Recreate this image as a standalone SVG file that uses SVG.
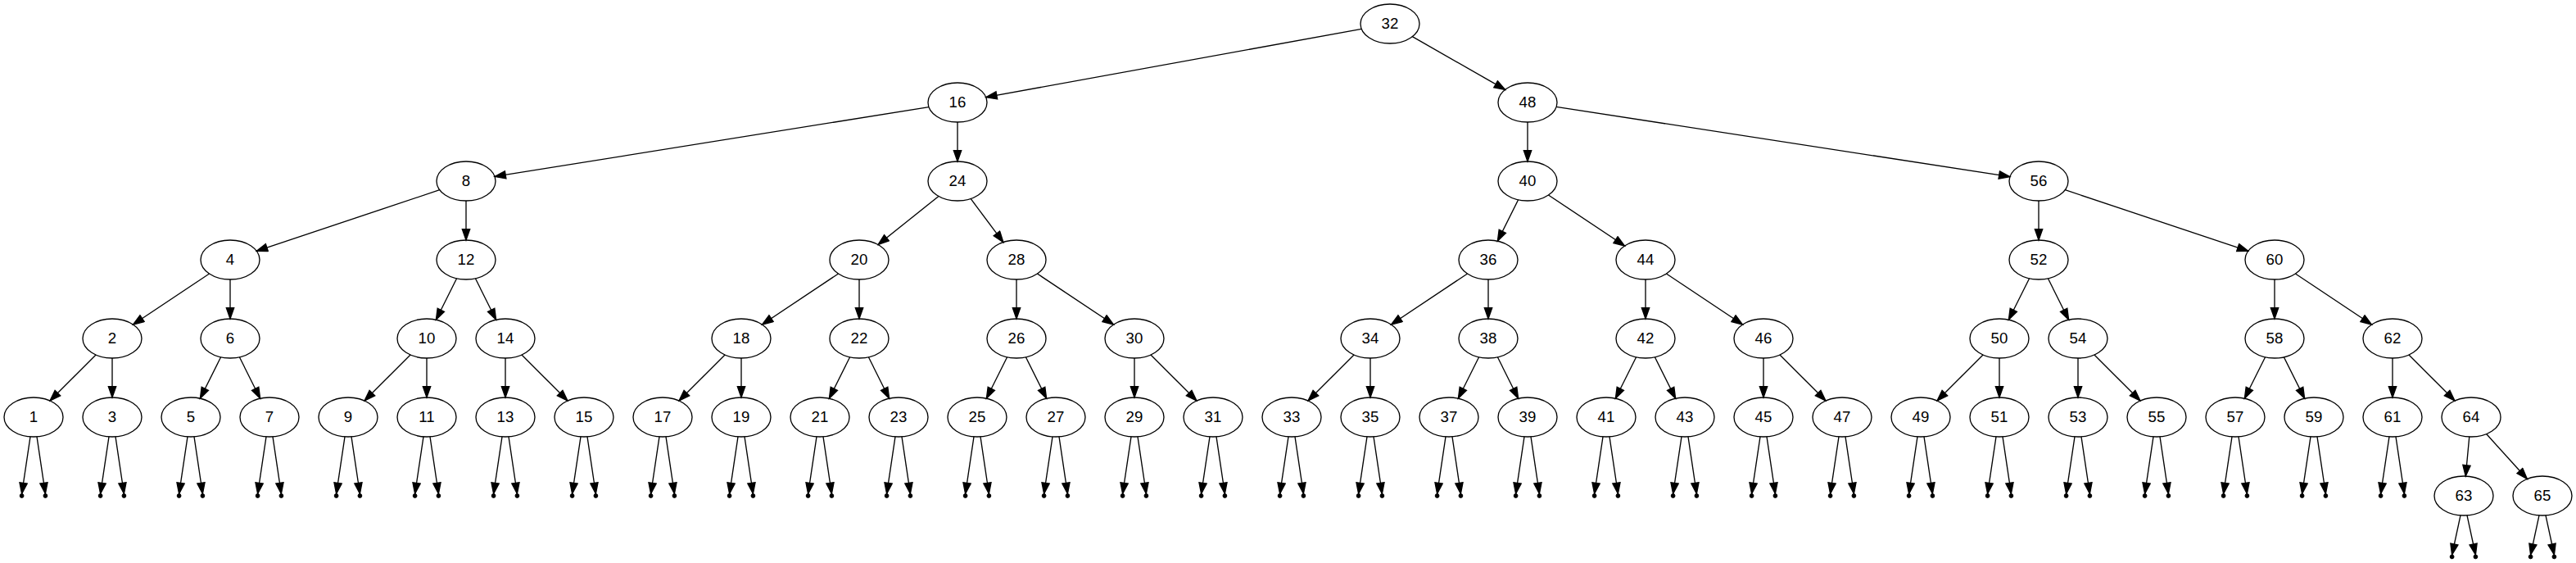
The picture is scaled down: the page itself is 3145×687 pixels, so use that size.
<svg xmlns="http://www.w3.org/2000/svg" width="3145" height="687" viewBox="0 0 3145 687">
<style>
.node ellipse{fill:none;stroke:#000;stroke-width:1.33}
.node text{font-family:"Liberation Sans",Arial,sans-serif;font-size:18.67px;text-anchor:middle;fill:#000}
.pt circle{fill:#000;stroke:#000;stroke-width:1}
#edges line{stroke:#000;stroke-width:1.33;fill:none;marker-end:url(#arr)}
</style>
<defs>
<marker id="arr" markerUnits="userSpaceOnUse" viewBox="-1 -1 16 12" markerWidth="16" markerHeight="12" refX="13.33" refY="4.67" orient="auto">
<path d="M0,0 L13.33,4.67 L0,9.33 Z" fill="#000" stroke="#000" stroke-width="1.33"/>
</marker>
</defs>
<rect x="0" y="0" width="3145" height="687" fill="#fff"/>
<g id="edges">
<line x1="1662.27" y1="35.32" x2="1203.73" y2="118.68"/>
<line x1="1724.33" y1="44.62" x2="1837.67" y2="109.38"/>
<line x1="1134.0" y1="130.6" x2="604.0" y2="215.4"/>
<line x1="1169" y1="149" x2="1169" y2="197"/>
<line x1="1865" y1="149" x2="1865" y2="197"/>
<line x1="1900.08" y1="130.4" x2="2453.92" y2="215.6"/>
<line x1="536.8" y1="231.73" x2="313.2" y2="306.27"/>
<line x1="569" y1="245" x2="569" y2="293"/>
<line x1="1145.95" y1="239.44" x2="1072.05" y2="298.56"/>
<line x1="1185.1" y1="242.47" x2="1224.9" y2="295.53"/>
<line x1="1853.62" y1="243.77" x2="1828.38" y2="294.23"/>
<line x1="1890.46" y1="237.97" x2="1983.54" y2="300.03"/>
<line x1="2489" y1="245" x2="2489" y2="293"/>
<line x1="2521.2" y1="231.73" x2="2744.8" y2="306.27"/>
<line x1="255.54" y1="333.97" x2="162.46" y2="396.03"/>
<line x1="281" y1="341" x2="281" y2="389"/>
<line x1="557.62" y1="339.77" x2="532.38" y2="390.23"/>
<line x1="580.38" y1="339.77" x2="605.62" y2="390.23"/>
<line x1="1023.54" y1="333.97" x2="930.46" y2="396.03"/>
<line x1="1049" y1="341" x2="1049" y2="389"/>
<line x1="1241" y1="341" x2="1241" y2="389"/>
<line x1="1266.46" y1="333.97" x2="1359.54" y2="396.03"/>
<line x1="1791.54" y1="333.97" x2="1698.46" y2="396.03"/>
<line x1="1817" y1="341" x2="1817" y2="389"/>
<line x1="2009" y1="341" x2="2009" y2="389"/>
<line x1="2034.46" y1="333.97" x2="2127.54" y2="396.03"/>
<line x1="2477.62" y1="339.77" x2="2452.38" y2="390.23"/>
<line x1="2500.38" y1="339.77" x2="2525.62" y2="390.23"/>
<line x1="2777" y1="341" x2="2777" y2="389"/>
<line x1="2802.46" y1="333.97" x2="2895.54" y2="396.03"/>
<line x1="117.03" y1="432.97" x2="60.97" y2="489.03"/>
<line x1="137" y1="437" x2="137" y2="485"/>
<line x1="269.62" y1="435.77" x2="244.38" y2="486.23"/>
<line x1="292.38" y1="435.77" x2="317.62" y2="486.23"/>
<line x1="501.03" y1="432.97" x2="444.97" y2="489.03"/>
<line x1="521" y1="437" x2="521" y2="485"/>
<line x1="617" y1="437" x2="617" y2="485"/>
<line x1="636.97" y1="432.97" x2="693.03" y2="489.03"/>
<line x1="885.03" y1="432.97" x2="828.97" y2="489.03"/>
<line x1="905" y1="437" x2="905" y2="485"/>
<line x1="1037.62" y1="435.77" x2="1012.38" y2="486.23"/>
<line x1="1060.38" y1="435.77" x2="1085.62" y2="486.23"/>
<line x1="1229.62" y1="435.77" x2="1204.38" y2="486.23"/>
<line x1="1252.38" y1="435.77" x2="1277.62" y2="486.23"/>
<line x1="1385" y1="437" x2="1385" y2="485"/>
<line x1="1404.97" y1="432.97" x2="1461.03" y2="489.03"/>
<line x1="1653.03" y1="432.97" x2="1596.97" y2="489.03"/>
<line x1="1673" y1="437" x2="1673" y2="485"/>
<line x1="1805.62" y1="435.77" x2="1780.38" y2="486.23"/>
<line x1="1828.38" y1="435.77" x2="1853.62" y2="486.23"/>
<line x1="1997.62" y1="435.77" x2="1972.38" y2="486.23"/>
<line x1="2020.38" y1="435.77" x2="2045.62" y2="486.23"/>
<line x1="2153" y1="437" x2="2153" y2="485"/>
<line x1="2172.97" y1="432.97" x2="2229.03" y2="489.03"/>
<line x1="2421.03" y1="432.97" x2="2364.97" y2="489.03"/>
<line x1="2441" y1="437" x2="2441" y2="485"/>
<line x1="2537" y1="437" x2="2537" y2="485"/>
<line x1="2556.97" y1="432.97" x2="2613.03" y2="489.03"/>
<line x1="2765.62" y1="435.77" x2="2740.38" y2="486.23"/>
<line x1="2788.38" y1="435.77" x2="2813.62" y2="486.23"/>
<line x1="2921" y1="437" x2="2921" y2="485"/>
<line x1="2940.97" y1="432.97" x2="2997.03" y2="489.03"/>
<line x1="3014.75" y1="532.95" x2="3010.25" y2="581.05"/>
<line x1="3035.62" y1="529.54" x2="3085.38" y2="584.46"/>
<line x1="37" y1="532.85" x2="26.6" y2="602.6"/><line x1="45" y1="532.85" x2="55.4" y2="602.6"/>
<line x1="133" y1="532.85" x2="122.6" y2="602.6"/><line x1="141" y1="532.85" x2="151.4" y2="602.6"/>
<line x1="229" y1="532.85" x2="218.6" y2="602.6"/><line x1="237" y1="532.85" x2="247.4" y2="602.6"/>
<line x1="325" y1="532.85" x2="314.6" y2="602.6"/><line x1="333" y1="532.85" x2="343.4" y2="602.6"/>
<line x1="421" y1="532.85" x2="410.6" y2="602.6"/><line x1="429" y1="532.85" x2="439.4" y2="602.6"/>
<line x1="517" y1="532.85" x2="506.6" y2="602.6"/><line x1="525" y1="532.85" x2="535.4" y2="602.6"/>
<line x1="613" y1="532.85" x2="602.6" y2="602.6"/><line x1="621" y1="532.85" x2="631.4" y2="602.6"/>
<line x1="709" y1="532.85" x2="698.6" y2="602.6"/><line x1="717" y1="532.85" x2="727.4" y2="602.6"/>
<line x1="805" y1="532.85" x2="794.6" y2="602.6"/><line x1="813" y1="532.85" x2="823.4" y2="602.6"/>
<line x1="901" y1="532.85" x2="890.6" y2="602.6"/><line x1="909" y1="532.85" x2="919.4" y2="602.6"/>
<line x1="997" y1="532.85" x2="986.6" y2="602.6"/><line x1="1005" y1="532.85" x2="1015.4" y2="602.6"/>
<line x1="1093" y1="532.85" x2="1082.6" y2="602.6"/><line x1="1101" y1="532.85" x2="1111.4" y2="602.6"/>
<line x1="1189" y1="532.85" x2="1178.6" y2="602.6"/><line x1="1197" y1="532.85" x2="1207.4" y2="602.6"/>
<line x1="1285" y1="532.85" x2="1274.6" y2="602.6"/><line x1="1293" y1="532.85" x2="1303.4" y2="602.6"/>
<line x1="1381" y1="532.85" x2="1370.6" y2="602.6"/><line x1="1389" y1="532.85" x2="1399.4" y2="602.6"/>
<line x1="1477" y1="532.85" x2="1466.6" y2="602.6"/><line x1="1485" y1="532.85" x2="1495.4" y2="602.6"/>
<line x1="1573" y1="532.85" x2="1562.6" y2="602.6"/><line x1="1581" y1="532.85" x2="1591.4" y2="602.6"/>
<line x1="1669" y1="532.85" x2="1658.6" y2="602.6"/><line x1="1677" y1="532.85" x2="1687.4" y2="602.6"/>
<line x1="1765" y1="532.85" x2="1754.6" y2="602.6"/><line x1="1773" y1="532.85" x2="1783.4" y2="602.6"/>
<line x1="1861" y1="532.85" x2="1850.6" y2="602.6"/><line x1="1869" y1="532.85" x2="1879.4" y2="602.6"/>
<line x1="1957" y1="532.85" x2="1946.6" y2="602.6"/><line x1="1965" y1="532.85" x2="1975.4" y2="602.6"/>
<line x1="2053" y1="532.85" x2="2042.6" y2="602.6"/><line x1="2061" y1="532.85" x2="2071.4" y2="602.6"/>
<line x1="2149" y1="532.85" x2="2138.6" y2="602.6"/><line x1="2157" y1="532.85" x2="2167.4" y2="602.6"/>
<line x1="2245" y1="532.85" x2="2234.6" y2="602.6"/><line x1="2253" y1="532.85" x2="2263.4" y2="602.6"/>
<line x1="2341" y1="532.85" x2="2330.6" y2="602.6"/><line x1="2349" y1="532.85" x2="2359.4" y2="602.6"/>
<line x1="2437" y1="532.85" x2="2426.6" y2="602.6"/><line x1="2445" y1="532.85" x2="2455.4" y2="602.6"/>
<line x1="2533" y1="532.85" x2="2522.6" y2="602.6"/><line x1="2541" y1="532.85" x2="2551.4" y2="602.6"/>
<line x1="2629" y1="532.85" x2="2618.6" y2="602.6"/><line x1="2637" y1="532.85" x2="2647.4" y2="602.6"/>
<line x1="2725" y1="532.85" x2="2714.6" y2="602.6"/><line x1="2733" y1="532.85" x2="2743.4" y2="602.6"/>
<line x1="2821" y1="532.85" x2="2810.6" y2="602.6"/><line x1="2829" y1="532.85" x2="2839.4" y2="602.6"/>
<line x1="2917" y1="532.85" x2="2906.6" y2="602.6"/><line x1="2925" y1="532.85" x2="2935.4" y2="602.6"/>
<line x1="3004" y1="628.85" x2="2993.6" y2="677"/><line x1="3012" y1="628.85" x2="3022.4" y2="677"/>
<line x1="3100" y1="628.85" x2="3089.6" y2="677"/><line x1="3108" y1="628.85" x2="3118.4" y2="677"/>
</g>
<g id="n32" class="node"><ellipse cx="1697" cy="29" rx="36" ry="24"/><text x="1697" y="34.6">32</text></g>
<g id="n16" class="node"><ellipse cx="1169" cy="125" rx="36" ry="24"/><text x="1169" y="130.6">16</text></g>
<g id="n48" class="node"><ellipse cx="1865" cy="125" rx="36" ry="24"/><text x="1865" y="130.6">48</text></g>
<g id="n8" class="node"><ellipse cx="569" cy="221" rx="36" ry="24"/><text x="569" y="226.6">8</text></g>
<g id="n24" class="node"><ellipse cx="1169" cy="221" rx="36" ry="24"/><text x="1169" y="226.6">24</text></g>
<g id="n40" class="node"><ellipse cx="1865" cy="221" rx="36" ry="24"/><text x="1865" y="226.6">40</text></g>
<g id="n56" class="node"><ellipse cx="2489" cy="221" rx="36" ry="24"/><text x="2489" y="226.6">56</text></g>
<g id="n4" class="node"><ellipse cx="281" cy="317" rx="36" ry="24"/><text x="281" y="322.6">4</text></g>
<g id="n12" class="node"><ellipse cx="569" cy="317" rx="36" ry="24"/><text x="569" y="322.6">12</text></g>
<g id="n20" class="node"><ellipse cx="1049" cy="317" rx="36" ry="24"/><text x="1049" y="322.6">20</text></g>
<g id="n28" class="node"><ellipse cx="1241" cy="317" rx="36" ry="24"/><text x="1241" y="322.6">28</text></g>
<g id="n36" class="node"><ellipse cx="1817" cy="317" rx="36" ry="24"/><text x="1817" y="322.6">36</text></g>
<g id="n44" class="node"><ellipse cx="2009" cy="317" rx="36" ry="24"/><text x="2009" y="322.6">44</text></g>
<g id="n52" class="node"><ellipse cx="2489" cy="317" rx="36" ry="24"/><text x="2489" y="322.6">52</text></g>
<g id="n60" class="node"><ellipse cx="2777" cy="317" rx="36" ry="24"/><text x="2777" y="322.6">60</text></g>
<g id="n2" class="node"><ellipse cx="137" cy="413" rx="36" ry="24"/><text x="137" y="418.6">2</text></g>
<g id="n6" class="node"><ellipse cx="281" cy="413" rx="36" ry="24"/><text x="281" y="418.6">6</text></g>
<g id="n10" class="node"><ellipse cx="521" cy="413" rx="36" ry="24"/><text x="521" y="418.6">10</text></g>
<g id="n14" class="node"><ellipse cx="617" cy="413" rx="36" ry="24"/><text x="617" y="418.6">14</text></g>
<g id="n18" class="node"><ellipse cx="905" cy="413" rx="36" ry="24"/><text x="905" y="418.6">18</text></g>
<g id="n22" class="node"><ellipse cx="1049" cy="413" rx="36" ry="24"/><text x="1049" y="418.6">22</text></g>
<g id="n26" class="node"><ellipse cx="1241" cy="413" rx="36" ry="24"/><text x="1241" y="418.6">26</text></g>
<g id="n30" class="node"><ellipse cx="1385" cy="413" rx="36" ry="24"/><text x="1385" y="418.6">30</text></g>
<g id="n34" class="node"><ellipse cx="1673" cy="413" rx="36" ry="24"/><text x="1673" y="418.6">34</text></g>
<g id="n38" class="node"><ellipse cx="1817" cy="413" rx="36" ry="24"/><text x="1817" y="418.6">38</text></g>
<g id="n42" class="node"><ellipse cx="2009" cy="413" rx="36" ry="24"/><text x="2009" y="418.6">42</text></g>
<g id="n46" class="node"><ellipse cx="2153" cy="413" rx="36" ry="24"/><text x="2153" y="418.6">46</text></g>
<g id="n50" class="node"><ellipse cx="2441" cy="413" rx="36" ry="24"/><text x="2441" y="418.6">50</text></g>
<g id="n54" class="node"><ellipse cx="2537" cy="413" rx="36" ry="24"/><text x="2537" y="418.6">54</text></g>
<g id="n58" class="node"><ellipse cx="2777" cy="413" rx="36" ry="24"/><text x="2777" y="418.6">58</text></g>
<g id="n62" class="node"><ellipse cx="2921" cy="413" rx="36" ry="24"/><text x="2921" y="418.6">62</text></g>
<g id="n1" class="node"><ellipse cx="41" cy="509" rx="36" ry="24"/><text x="41" y="514.6">1</text></g>
<g id="n3" class="node"><ellipse cx="137" cy="509" rx="36" ry="24"/><text x="137" y="514.6">3</text></g>
<g id="n5" class="node"><ellipse cx="233" cy="509" rx="36" ry="24"/><text x="233" y="514.6">5</text></g>
<g id="n7" class="node"><ellipse cx="329" cy="509" rx="36" ry="24"/><text x="329" y="514.6">7</text></g>
<g id="n9" class="node"><ellipse cx="425" cy="509" rx="36" ry="24"/><text x="425" y="514.6">9</text></g>
<g id="n11" class="node"><ellipse cx="521" cy="509" rx="36" ry="24"/><text x="521" y="514.6">11</text></g>
<g id="n13" class="node"><ellipse cx="617" cy="509" rx="36" ry="24"/><text x="617" y="514.6">13</text></g>
<g id="n15" class="node"><ellipse cx="713" cy="509" rx="36" ry="24"/><text x="713" y="514.6">15</text></g>
<g id="n17" class="node"><ellipse cx="809" cy="509" rx="36" ry="24"/><text x="809" y="514.6">17</text></g>
<g id="n19" class="node"><ellipse cx="905" cy="509" rx="36" ry="24"/><text x="905" y="514.6">19</text></g>
<g id="n21" class="node"><ellipse cx="1001" cy="509" rx="36" ry="24"/><text x="1001" y="514.6">21</text></g>
<g id="n23" class="node"><ellipse cx="1097" cy="509" rx="36" ry="24"/><text x="1097" y="514.6">23</text></g>
<g id="n25" class="node"><ellipse cx="1193" cy="509" rx="36" ry="24"/><text x="1193" y="514.6">25</text></g>
<g id="n27" class="node"><ellipse cx="1289" cy="509" rx="36" ry="24"/><text x="1289" y="514.6">27</text></g>
<g id="n29" class="node"><ellipse cx="1385" cy="509" rx="36" ry="24"/><text x="1385" y="514.6">29</text></g>
<g id="n31" class="node"><ellipse cx="1481" cy="509" rx="36" ry="24"/><text x="1481" y="514.6">31</text></g>
<g id="n33" class="node"><ellipse cx="1577" cy="509" rx="36" ry="24"/><text x="1577" y="514.6">33</text></g>
<g id="n35" class="node"><ellipse cx="1673" cy="509" rx="36" ry="24"/><text x="1673" y="514.6">35</text></g>
<g id="n37" class="node"><ellipse cx="1769" cy="509" rx="36" ry="24"/><text x="1769" y="514.6">37</text></g>
<g id="n39" class="node"><ellipse cx="1865" cy="509" rx="36" ry="24"/><text x="1865" y="514.6">39</text></g>
<g id="n41" class="node"><ellipse cx="1961" cy="509" rx="36" ry="24"/><text x="1961" y="514.6">41</text></g>
<g id="n43" class="node"><ellipse cx="2057" cy="509" rx="36" ry="24"/><text x="2057" y="514.6">43</text></g>
<g id="n45" class="node"><ellipse cx="2153" cy="509" rx="36" ry="24"/><text x="2153" y="514.6">45</text></g>
<g id="n47" class="node"><ellipse cx="2249" cy="509" rx="36" ry="24"/><text x="2249" y="514.6">47</text></g>
<g id="n49" class="node"><ellipse cx="2345" cy="509" rx="36" ry="24"/><text x="2345" y="514.6">49</text></g>
<g id="n51" class="node"><ellipse cx="2441" cy="509" rx="36" ry="24"/><text x="2441" y="514.6">51</text></g>
<g id="n53" class="node"><ellipse cx="2537" cy="509" rx="36" ry="24"/><text x="2537" y="514.6">53</text></g>
<g id="n55" class="node"><ellipse cx="2633" cy="509" rx="36" ry="24"/><text x="2633" y="514.6">55</text></g>
<g id="n57" class="node"><ellipse cx="2729" cy="509" rx="36" ry="24"/><text x="2729" y="514.6">57</text></g>
<g id="n59" class="node"><ellipse cx="2825" cy="509" rx="36" ry="24"/><text x="2825" y="514.6">59</text></g>
<g id="n61" class="node"><ellipse cx="2921" cy="509" rx="36" ry="24"/><text x="2921" y="514.6">61</text></g>
<g id="n64" class="node"><ellipse cx="3017" cy="509" rx="36" ry="24"/><text x="3017" y="514.6">64</text></g>
<g id="n63" class="node"><ellipse cx="3008" cy="605" rx="36" ry="24"/><text x="3008" y="610.6">63</text></g>
<g id="n65" class="node"><ellipse cx="3104" cy="605" rx="36" ry="24"/><text x="3104" y="610.6">65</text></g>
<g id="points" class="pt">
<g id="p1a"><circle cx="26.6" cy="605" r="2.4"/></g><g id="p1b"><circle cx="55.4" cy="605" r="2.4"/></g>
<g id="p3a"><circle cx="122.6" cy="605" r="2.4"/></g><g id="p3b"><circle cx="151.4" cy="605" r="2.4"/></g>
<g id="p5a"><circle cx="218.6" cy="605" r="2.4"/></g><g id="p5b"><circle cx="247.4" cy="605" r="2.4"/></g>
<g id="p7a"><circle cx="314.6" cy="605" r="2.4"/></g><g id="p7b"><circle cx="343.4" cy="605" r="2.4"/></g>
<g id="p9a"><circle cx="410.6" cy="605" r="2.4"/></g><g id="p9b"><circle cx="439.4" cy="605" r="2.4"/></g>
<g id="p11a"><circle cx="506.6" cy="605" r="2.4"/></g><g id="p11b"><circle cx="535.4" cy="605" r="2.4"/></g>
<g id="p13a"><circle cx="602.6" cy="605" r="2.4"/></g><g id="p13b"><circle cx="631.4" cy="605" r="2.4"/></g>
<g id="p15a"><circle cx="698.6" cy="605" r="2.4"/></g><g id="p15b"><circle cx="727.4" cy="605" r="2.4"/></g>
<g id="p17a"><circle cx="794.6" cy="605" r="2.4"/></g><g id="p17b"><circle cx="823.4" cy="605" r="2.4"/></g>
<g id="p19a"><circle cx="890.6" cy="605" r="2.4"/></g><g id="p19b"><circle cx="919.4" cy="605" r="2.4"/></g>
<g id="p21a"><circle cx="986.6" cy="605" r="2.4"/></g><g id="p21b"><circle cx="1015.4" cy="605" r="2.4"/></g>
<g id="p23a"><circle cx="1082.6" cy="605" r="2.4"/></g><g id="p23b"><circle cx="1111.4" cy="605" r="2.4"/></g>
<g id="p25a"><circle cx="1178.6" cy="605" r="2.4"/></g><g id="p25b"><circle cx="1207.4" cy="605" r="2.4"/></g>
<g id="p27a"><circle cx="1274.6" cy="605" r="2.4"/></g><g id="p27b"><circle cx="1303.4" cy="605" r="2.4"/></g>
<g id="p29a"><circle cx="1370.6" cy="605" r="2.4"/></g><g id="p29b"><circle cx="1399.4" cy="605" r="2.4"/></g>
<g id="p31a"><circle cx="1466.6" cy="605" r="2.4"/></g><g id="p31b"><circle cx="1495.4" cy="605" r="2.4"/></g>
<g id="p33a"><circle cx="1562.6" cy="605" r="2.4"/></g><g id="p33b"><circle cx="1591.4" cy="605" r="2.4"/></g>
<g id="p35a"><circle cx="1658.6" cy="605" r="2.4"/></g><g id="p35b"><circle cx="1687.4" cy="605" r="2.4"/></g>
<g id="p37a"><circle cx="1754.6" cy="605" r="2.4"/></g><g id="p37b"><circle cx="1783.4" cy="605" r="2.4"/></g>
<g id="p39a"><circle cx="1850.6" cy="605" r="2.4"/></g><g id="p39b"><circle cx="1879.4" cy="605" r="2.4"/></g>
<g id="p41a"><circle cx="1946.6" cy="605" r="2.4"/></g><g id="p41b"><circle cx="1975.4" cy="605" r="2.4"/></g>
<g id="p43a"><circle cx="2042.6" cy="605" r="2.4"/></g><g id="p43b"><circle cx="2071.4" cy="605" r="2.4"/></g>
<g id="p45a"><circle cx="2138.6" cy="605" r="2.4"/></g><g id="p45b"><circle cx="2167.4" cy="605" r="2.4"/></g>
<g id="p47a"><circle cx="2234.6" cy="605" r="2.4"/></g><g id="p47b"><circle cx="2263.4" cy="605" r="2.4"/></g>
<g id="p49a"><circle cx="2330.6" cy="605" r="2.4"/></g><g id="p49b"><circle cx="2359.4" cy="605" r="2.4"/></g>
<g id="p51a"><circle cx="2426.6" cy="605" r="2.4"/></g><g id="p51b"><circle cx="2455.4" cy="605" r="2.4"/></g>
<g id="p53a"><circle cx="2522.6" cy="605" r="2.4"/></g><g id="p53b"><circle cx="2551.4" cy="605" r="2.4"/></g>
<g id="p55a"><circle cx="2618.6" cy="605" r="2.4"/></g><g id="p55b"><circle cx="2647.4" cy="605" r="2.4"/></g>
<g id="p57a"><circle cx="2714.6" cy="605" r="2.4"/></g><g id="p57b"><circle cx="2743.4" cy="605" r="2.4"/></g>
<g id="p59a"><circle cx="2810.6" cy="605" r="2.4"/></g><g id="p59b"><circle cx="2839.4" cy="605" r="2.4"/></g>
<g id="p61a"><circle cx="2906.6" cy="605" r="2.4"/></g><g id="p61b"><circle cx="2935.4" cy="605" r="2.4"/></g>
<g id="p63a"><circle cx="2993.6" cy="679.4" r="2.4"/></g><g id="p63b"><circle cx="3022.4" cy="679.4" r="2.4"/></g>
<g id="p65a"><circle cx="3089.6" cy="679.4" r="2.4"/></g><g id="p65b"><circle cx="3118.4" cy="679.4" r="2.4"/></g>
</g>
</svg>
